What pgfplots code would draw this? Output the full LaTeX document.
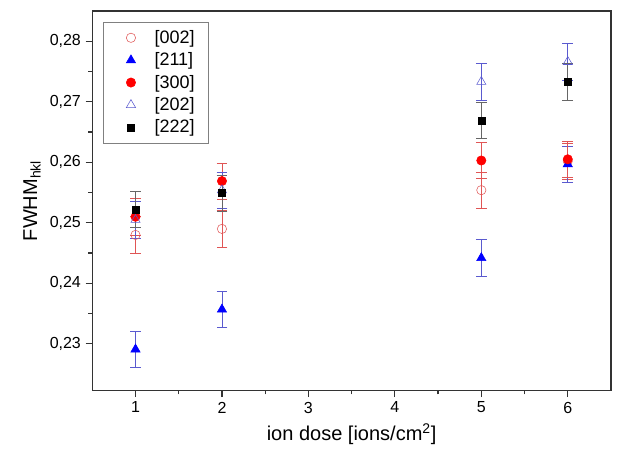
\documentclass[border=0pt]{standalone}
\usepackage{fontspec}
\setmainfont{Liberation Sans}
\usepackage{pgfplots}
\pgfplotsset{compat=1.18}
\definecolor{redlt}{HTML}{E05555}
\definecolor{redfull}{HTML}{FF0000}
\definecolor{bluefull}{HTML}{0000FF}
\definecolor{bluelt}{HTML}{5A5ACF}
\definecolor{framegray}{HTML}{333333}

\begin{document}
\begin{tikzpicture}
\begin{axis}[
  scale only axis,
  width=389pt,height=284.6pt,
  xmin=0.5,xmax=6.5,ymin=0.2223,ymax=0.285,
  xtick={1,2,3,4,5,6},minor x tick num=1,
  ytick={0.23,0.24,0.25,0.26,0.27,0.28},minor y tick num=1,
  tick pos=left,tick align=outside,
  major tick length=5pt,minor tick length=3pt,
  axis line style={framegray,line width=0.9pt},
  every tick/.style={framegray,line width=0.9pt},
  /pgf/number format/assume math mode=true,
  yticklabel style={/pgf/number format/.cd,fixed,fixed zerofill,precision=2,use comma},
  ticklabel style={font=\fontsize{12}{14}\selectfont},
  xlabel={ion dose [ions/cm\textsuperscript{2}]},
  ylabel={FWHM\textsubscript{hkl}},
  label style={font=\fontsize{15}{17}\selectfont},
  xlabel style={yshift=-1pt},
  legend cell align=left,
  legend image code/.code={%
    \path[draw=none,fill=none] (0cm,0cm) -- (1cm,0cm);
    \draw[#1,only marks] plot coordinates {(0.45cm,0cm)};},
  legend style={at={(0.0206,0.971)},anchor=north west,draw=gray,
    font=\fontsize{13.5}{15}\selectfont,row sep=1.5pt,inner xsep=8pt,inner ysep=4pt},
  error bars/y dir=both,error bars/y explicit,
]
\addplot[only marks,mark=o,mark size=3.5pt,color=redlt,
  error bars/error bar style={redlt,line width=0.5pt},
  error bars/error mark options={rotate=90,mark size=4pt,redlt,line width=0.5pt}]
  coordinates {(1,0.2480) +- (0,0.003) (2,0.2490) +- (0,0.003) (5,0.2554) +- (0,0.003) (6,0.2602) +- (0,0.003)};
\addlegendentry{[002]}
\addplot[only marks,mark=triangle*,mark size=4pt,color=bluefull,
  error bars/error bar style={bluelt,line width=0.5pt},
  error bars/error mark options={rotate=90,mark size=4pt,bluelt,line width=0.5pt}]
  coordinates {(1,0.2291) +- (0,0.003) (2,0.2357) +- (0,0.003) (5,0.2442) +- (0,0.003) (6,0.2597) +- (0,0.003)};
\addlegendentry{[211]}
\addplot[only marks,mark=*,mark size=3.5pt,color=redfull,
  error bars/error bar style={redlt,line width=0.5pt},
  error bars/error mark options={rotate=90,mark size=4pt,redlt,line width=0.5pt}]
  coordinates {(1,0.2510) +- (0,0.003) (2,0.2569) +- (0,0.003) (5,0.2603) +- (0,0.003) (6,0.2605) +- (0,0.003)};
\addlegendentry{[300]}
\addplot[only marks,mark=triangle,mark size=4pt,color=bluelt,
  error bars/error bar style={bluelt,line width=0.5pt},
  error bars/error mark options={rotate=90,mark size=4pt,bluelt,line width=0.5pt}]
  coordinates {(1,0.2505) +- (0,0.003) (2,0.2554) +- (0,0.003) (5,0.2733) +- (0,0.003) (6,0.2766) +- (0,0.003)};
\addlegendentry{[202]}
\addplot[only marks,mark=square*,mark size=2.6pt,color=black,
  error bars/error bar style={gray!80!black,line width=0.5pt},
  error bars/error mark options={rotate=90,mark size=4pt,gray!80!black,line width=0.5pt}]
  coordinates {(1,0.2522) +- (0,0.003) (2,0.2549) +- (0,0.003) (5,0.2669) +- (0,0.003) (6,0.2733) +- (0,0.003)};
\addlegendentry{[222]}
\coordinate (sw) at (rel axis cs:0,0);
\coordinate (ne) at (rel axis cs:1,1);
\node[anchor=base west,xshift=-21pt,yshift=-24pt,font=\fontsize{13}{15}\selectfont]
  at (rel axis cs:1,0) {×10\textsuperscript{16}};
\end{axis}
\pgfresetboundingbox
\path[use as bounding box] ([xshift=-69.2pt,yshift=-45.4pt]sw) rectangle ([xshift=24pt,yshift=8.25pt]ne);
\end{tikzpicture}
\end{document}
